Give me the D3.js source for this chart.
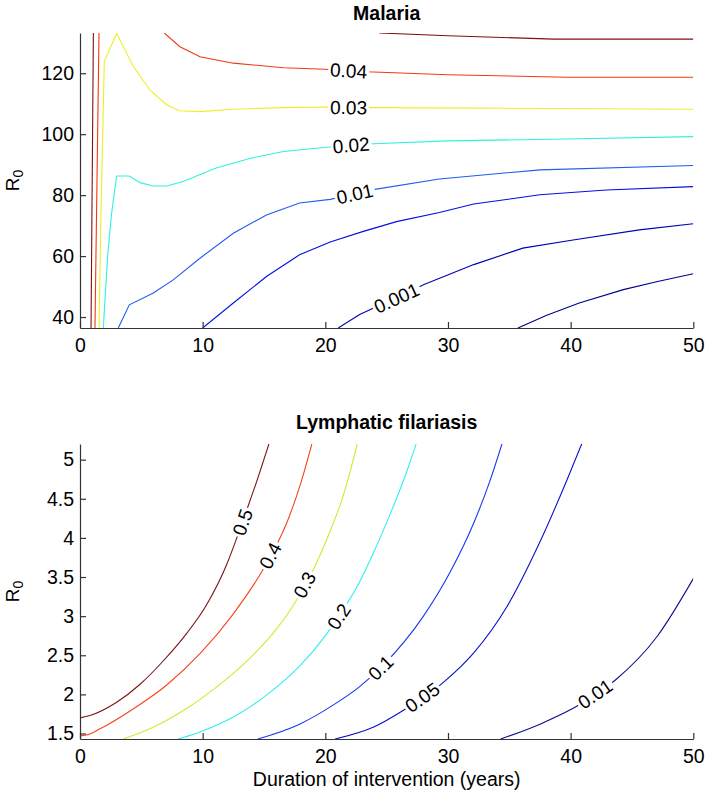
<!DOCTYPE html>
<html><head><meta charset="utf-8">
<script src="https://cdn.jsdelivr.net/npm/d3@7"></script>
<style>body{margin:0;background:#fff}text{font-family:"Liberation Sans",Arial,sans-serif}</style>
</head><body><svg id="c" width="709" height="797"></svg>
<script>
// ---------- data ----------
const xTicks = [0, 10, 20, 30, 40, 50];
const malariaYTicks = [40, 60, 80, 100, 120];
const lfYTicks = [1.5, 2, 2.5, 3, 3.5, 4, 4.5, 5];
const lfYTickLabels = ["1.5", "2", "2.5", "3", "3.5", "4", "4.5", "5"];
const xDomain = [0, 50];
const malariaYDomain = [36.4, 133.2];
const lfYDomain = [1.43, 5.2];

// Malaria contours [duration, R0]
const mal_lowest = [[35.7,36.4],[38,40.5],[40.7,44.6],[44.3,49.0],[47,51.6],[50,54.2]];
const mal_0001 = [[21.05,36.4],[22.8,40.8],[23.9,42.9],[26,46.6],[28.0,50.6],[32.1,57.2],[36.1,62.6],[40.2,65.3],[45.6,68.6],[50,70.6]];
const mal_0005 = [[10,36.4],[12.5,44.6],[15.2,53.3],[17.9,60.4],[20.4,64.6],[23.1,68.1],[25.8,71.3],[29.3,74.3],[32.1,77.1],[37.5,80.1],[42.9,81.7],[50,82.8]];
const mal_001 = [[3.12,36.4],[4.02,44.0],[5.98,47.9],[7.6,52.2],[9.78,59.3],[12.5,67.5],[15.2,73.5],[17.9,77.4],[20.4,78.6],[23.9,81.8],[29.3,85.3],[37.5,88.3],[50,89.7]];
const mal_002 = [[1.9,36.4],[2.25,59.9],[2.58,74.1],[2.99,86.3],[4.0,86.3],[4.9,84.1],[5.98,83.0],[7.07,83.0],[8.4,84.5],[11.1,88.9],[13.9,92.1],[16.6,94.3],[20.5,95.9],[23.4,96.8],[30,97.8],[39.5,98.4],[50,99.2]];
const mal_003 = [[1.55,36.4],[1.68,67.5],[1.98,123.8],[2.99,133.1],[4.35,122.2],[5.7,114.5],[7.07,109.6],[8.15,107.7],[9.8,107.4],[12.5,108.2],[16.6,108.7],[20.4,108.9],[23.4,108.7],[35,108.5],[50,108.2]];
const mal_004_left = [[1.22,36.4],[1.55,133.2]];
const mal_004 = [[6.87,133.2],[8.15,128.7],[9.78,125.4],[12.5,123.3],[16.6,121.8],[20.5,121.2],[23.4,120.5],[30,119.5],[39.7,118.7],[50,118.7]];
const mal_005_left = [[0.9,36.4],[1.09,133.2]];
const mal_005 = [[24.4,133.2],[30,132.3],[38.6,131.2],[50,131.2]];
const malLabelText = ["0.04", "0.03", "0.02", "0.01", "0.001"];
const malLabelX = [21.9, 21.9, 22.1, 22.4, 25.8];

// Lymphatic filariasis contours [duration, R0]
const lf_05 = [[0,1.70],[0.81,1.73],[2.99,1.90],[4.9,2.13],[6.8,2.43],[8.7,2.78],[10.3,3.14],[11.96,3.66],[12.9,4.05],[13.6,4.36],[14.4,4.72],[15.4,5.2]];
const lf_04 = [[0,1.47],[0.5,1.48],[1.63,1.56],[4.3,1.81],[7.07,2.12],[9.78,2.52],[12.5,3.03],[14.9,3.59],[16.85,4.19],[18.0,4.70],[18.9,5.2]];
const lf_03 = [[3.53,1.43],[5.7,1.56],[8.4,1.79],[11.1,2.09],[13.9,2.47],[16.0,2.83],[17.4,3.14],[19.4,3.72],[20.9,4.29],[21.3,4.46],[22.6,5.2]];
const lf_02 = [[8.0,1.43],[9.78,1.52],[12.5,1.71],[15.2,1.99],[17.9,2.36],[20.1,2.77],[21.2,3.02],[22.8,3.44],[23.9,3.80],[25.3,4.31],[26.6,4.83],[27.4,5.2]];
const lf_01 = [[14.5,1.43],[17.9,1.62],[20.6,1.86],[22.8,2.10],[24.7,2.37],[28.0,3.0],[30.2,3.57],[32.1,4.19],[33.4,4.72],[34.4,5.2]];
const lf_005 = [[20.8,1.43],[23.9,1.58],[26.6,1.82],[29.6,2.15],[32.1,2.53],[34.8,3.12],[37.5,3.95],[39.7,4.74],[40.9,5.2]];
const lf_001 = [[34.3,1.43],[37.5,1.62],[40.75,1.87],[43.7,2.19],[47.0,2.73],[50,3.48]];
const lfLabelText = ["0.5", "0.4", "0.3", "0.2", "0.1", "0.05", "0.01"];
const lfLabelX = [13.24, 15.5, 18.3, 21.1, 24.5, 27.9, 42.0];

// ---------- drawing ----------
const svg = d3.select("#c");
svg.append("rect").attr("width", 709).attr("height", 797).attr("fill", "#fff");
const axisColor = "#333";
const TICK_FONT = 19.5;
const LABEL_FONT = 19;
const TITLE_FONT = 19.5;

function interpY(pts, x) {
  for (let i = 0; i < pts.length - 1; i++) {
    const a = pts[i], b = pts[i + 1];
    if (x >= a[0] && x <= b[0]) return a[1] + (b[1] - a[1]) * (x - a[0]) / (b[0] - a[0]);
  }
  return x < pts[0][0] ? pts[0][1] : pts[pts.length - 1][1];
}

function panel(cfg) {
  const x = d3.scaleLinear().domain(xDomain).range([80, 693.3]);
  const y = d3.scaleLinear().domain(cfg.yDomain).range([cfg.bottom, cfg.top]);
  const g = svg.append("g");
  const clipId = "clip" + cfg.id;
  svg.append("clipPath").attr("id", clipId).append("rect")
    .attr("x", 80).attr("y", cfg.top).attr("width", 613.3).attr("height", cfg.bottom - cfg.top);
  const lines = g.append("g").attr("clip-path", `url(#${clipId})`);
  const lineGen = d3.line().x(d => x(d[0])).y(d => y(d[1])).curve(cfg.curve);
  cfg.lines.forEach(l => {
    lines.append("path").datum(l.pts).attr("d", lineGen)
      .attr("fill", "none").attr("stroke", l.color).attr("stroke-width", 1.1);
  });
  // labels
  const lab = g.append("g");
  cfg.labels.forEach(L => {
    const px = x(L.x), py = y(interpY(L.pts, L.x));
    const d = 0.4;
    const p1 = [x(L.x - d), y(interpY(L.pts, L.x - d))];
    const p2 = [x(L.x + d), y(interpY(L.pts, L.x + d))];
    let ang = Math.atan2(p2[1] - p1[1], p2[0] - p1[0]) * 180 / Math.PI;
    if (ang > 90) ang -= 180; if (ang < -90) ang += 180;
    const gg = lab.append("g").attr("transform", `translate(${px},${py}) rotate(${ang})`);
    const bg = gg.append("rect").attr("fill", "#fff");
    const t = gg.append("text").attr("text-anchor", "middle").attr("dy", "0.36em")
      .attr("font-size", LABEL_FONT).attr("fill", "#000").text(L.text);
    const w = t.node().getComputedTextLength();
    bg.attr("x", -w / 2 - 2).attr("y", -5).attr("width", w + 4).attr("height", 10);
  });
  // axes
  const ax = g.append("g").attr("transform", `translate(0,${cfg.bottom})`)
    .call(d3.axisBottom(x).tickValues(xTicks).tickFormat(d3.format("d")).tickSizeInner(-6).tickSizeOuter(0).tickPadding(10));
  const ay = g.append("g").attr("transform", `translate(80,0)`)
    .call(d3.axisLeft(y).tickValues(cfg.yTicks).tickFormat((d, i) => cfg.yTickLabels[i]).tickSizeInner(-6).tickSizeOuter(0).tickPadding(6));
  [ax, ay].forEach(a => {
    a.selectAll("path,line").attr("stroke", axisColor).attr("stroke-width", 1.2);
    a.selectAll("text").attr("font-size", TICK_FONT).attr("fill", "#000")
      .style("font-family", '"Liberation Sans",Arial,sans-serif');
  });
  // title
  g.append("text").attr("x", 386.7).attr("y", cfg.titleY).attr("text-anchor", "middle")
    .attr("font-size", TITLE_FONT).attr("font-weight", "bold").text(cfg.title);
  // R0 label
  const r = g.append("text").attr("transform", `translate(19,${(cfg.top + cfg.bottom) / 2}) rotate(-90)`)
    .attr("text-anchor", "middle").attr("font-size", 19);
  r.append("tspan").text("R");
  r.append("tspan").attr("font-size", 14).attr("dy", "0.3em").text("0");
  return { x, y, g };
}

const malColors = { lowest: "#00008a", c0001: "#0000b4", c0005: "#0010e0", c001: "#1f5cf0", c002: "#2ef2e0", c003: "#eeee22", c004: "#f03a10", c005: "#7f1010" };
panel({
  id: "m", top: 33, bottom: 328, yDomain: malariaYDomain, yTicks: malariaYTicks, yTickLabels: malariaYTicks.map(String),
  title: "Malaria", titleY: 19.5, curve: d3.curveLinear,
  lines: [
    { pts: mal_lowest, color: malColors.lowest },
    { pts: mal_0001, color: malColors.c0001 },
    { pts: mal_0005, color: malColors.c0005 },
    { pts: mal_001, color: malColors.c001 },
    { pts: mal_002, color: malColors.c002 },
    { pts: mal_003, color: malColors.c003 },
    { pts: mal_004_left, color: malColors.c004 },
    { pts: mal_004, color: malColors.c004 },
    { pts: mal_005_left, color: malColors.c005 },
    { pts: mal_005, color: malColors.c005 }
  ],
  labels: [
    { pts: mal_004, x: malLabelX[0], text: malLabelText[0] },
    { pts: mal_003, x: malLabelX[1], text: malLabelText[1] },
    { pts: mal_002, x: malLabelX[2], text: malLabelText[2] },
    { pts: mal_001, x: malLabelX[3], text: malLabelText[3] },
    { pts: mal_0001, x: malLabelX[4], text: malLabelText[4] }
  ]
});

const lfColors = ["#7a1418", "#f5461a", "#c8ee30", "#30eef0", "#1838f0", "#0a10c8", "#10108c"];
const lfLines = [lf_05, lf_04, lf_03, lf_02, lf_01, lf_005, lf_001];
panel({
  id: "l", top: 444, bottom: 739, yDomain: lfYDomain, yTicks: lfYTicks, yTickLabels: lfYTickLabels,
  title: "Lymphatic filariasis", titleY: 429, curve: d3.curveMonotoneX,
  lines: lfLines.map((p, i) => ({ pts: p, color: lfColors[i] })),
  labels: lfLines.map((p, i) => ({ pts: p, x: lfLabelX[i], text: lfLabelText[i] }))
});

svg.append("text").attr("x", 386.7).attr("y", 786).attr("text-anchor", "middle")
  .attr("font-size", 19.5).text("Duration of intervention (years)");
</script></body></html>
